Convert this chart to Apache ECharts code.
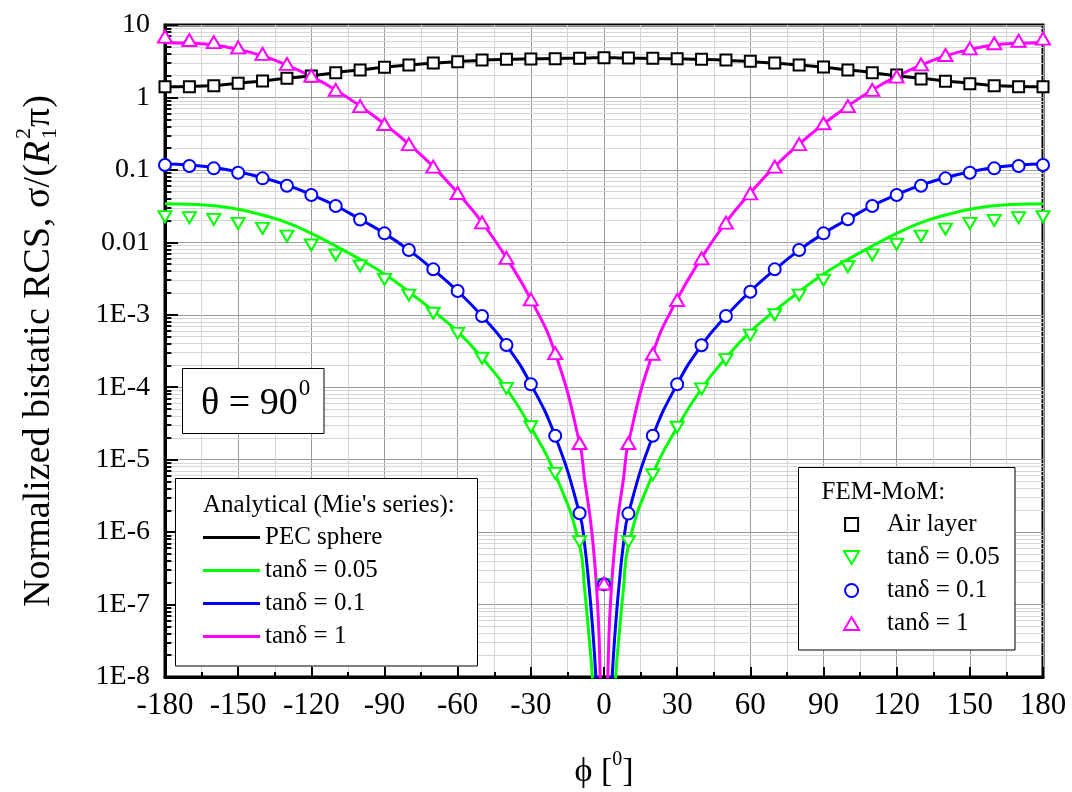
<!DOCTYPE html>
<html><head><meta charset="utf-8">
<script src="https://cdn.jsdelivr.net/npm/echarts@6/dist/echarts.min.js"></script>
<style>html,body{margin:0;padding:0;background:#fff}#c{width:1072px;height:792px}</style>
</head><body><div id="c"></div>
<script>
// ---------- data ----------
const phiFem = [-180,-170,-160,-150,-140,-130,-120,-110,-100,-90,-80,-70,-60,-50,-40,-30,-20,-10,0,
  10,20,30,40,50,60,70,80,90,100,110,120,130,140,150,160,170,180];
const femAir = [1.41,1.41,1.45,1.57,1.69,1.84,1.98,2.20,2.39,2.61,2.80,2.98,3.11,3.29,3.36,3.40,3.43,3.47,3.54,
  3.50,3.47,3.42,3.36,3.29,3.15,2.98,2.80,2.63,2.39,2.20,2.04,1.80,1.67,1.54,1.45,1.41,1.41];
const femTan005 = [0.0226,0.0219,0.0207,0.0183,0.0156,0.0122,0.00918,0.00668,0.00471,0.00308,0.00187,0.00105,5.55e-4,2.51e-4,9.64e-5,2.85e-5,6.47e-6,7.4e-7,1.9e-7,
  7.4e-7,6.2e-6,2.8e-5,9.5e-5,2.4e-4,5.25e-4,1.0e-3,1.87e-3,3.0e-3,4.6e-3,6.7e-3,9.4e-3,0.0122,0.0152,0.0183,0.0201,0.0219,0.0226];
const femTan01 = [0.117,0.113,0.105,0.0915,0.0764,0.0605,0.045,0.0317,0.0207,0.0133,0.00783,0.00424,0.00213,9.6e-4,3.83e-4,1.10e-4,2.14e-5,1.82e-6,1.9e-7,
  1.8e-6,2.14e-5,1.1e-4,3.8e-4,9.6e-4,2.08e-3,4.24e-3,7.83e-3,0.0133,0.0208,0.0317,0.045,0.0605,0.0764,0.0915,0.105,0.113,0.117];
const femTan1 = [6.9,6.2,5.8,4.9,4.0,2.9,2.0,1.27,0.76,0.43,0.227,0.111,0.048,0.0189,0.0061,0.00163,2.95e-4,1.7e-5,1.95e-7,
  1.7e-5,2.9e-4,1.6e-3,6.0e-3,0.0187,0.0474,0.111,0.227,0.44,0.76,1.27,1.94,2.86,3.85,4.76,5.6,6.07,6.5];

const phiMie = [-180,-170,-160,-150,-140,-130,-120,-110,-100,-90,-80,-70,-60,-50,-40,-30,-20,-10,
  -8,-6,-5,-4,-3,-2,-1,0,1,2,3,4,5,6,8,
  10,20,30,40,50,60,70,80,90,100,110,120,130,140,150,160,170,180];
const miePec = [1.41,1.42,1.46,1.57,1.69,1.84,1.99,2.20,2.40,2.61,2.80,2.98,3.12,3.27,3.36,3.41,3.45,3.49,
  3.50,3.51,3.52,3.52,3.53,3.53,3.54,3.54,3.54,3.53,3.53,3.52,3.52,3.51,3.50,
  3.49,3.45,3.41,3.36,3.27,3.12,2.98,2.80,2.61,2.40,2.20,1.99,1.84,1.69,1.57,1.46,1.42,1.41];
const mieTan005 = [0.034,0.0335,0.032,0.0286,0.0238,0.01867,0.0133,0.00889,0.00582,0.00366,0.00208,0.00113,5.85e-4,2.55e-4,9.6e-5,2.8e-5,6.3e-6,6.5e-7,
  1.7e-7,3.2e-8,1.3e-8,4e-9,1e-9,1.5e-10,1e-11,1e-12,1e-11,1.5e-10,1e-9,4e-9,1.3e-8,3.2e-8,1.7e-7,
  6.5e-7,6.3e-6,2.8e-5,9.6e-5,2.55e-4,5.85e-4,0.00113,0.00208,0.00366,0.00582,0.00889,0.0133,0.01867,0.0238,0.0286,0.032,0.0335,0.034];
const mieTan01 = [0.121,0.117,0.108,0.094,0.078,0.0615,0.0455,0.032,0.0208,0.0133,0.0078,0.0042,0.00212,9.6e-4,3.8e-4,1.1e-4,2.1e-5,1.8e-6,
  7e-7,1.6e-7,6.5e-8,2.3e-8,6e-9,1e-9,5e-11,1e-12,5e-11,1e-9,6e-9,2.3e-8,6.5e-8,1.6e-7,7e-7,
  1.8e-6,2.1e-5,1.1e-4,3.8e-4,9.6e-4,0.00212,0.0042,0.0078,0.0133,0.0208,0.032,0.0455,0.0615,0.078,0.094,0.108,0.117,0.121];
const mieTan1 = [5.7,5.6,5.3,4.6,3.75,2.8,1.95,1.27,0.76,0.43,0.227,0.111,0.048,0.0189,0.0061,0.00163,2.95e-4,1.7e-5,
  5.5e-6,1.9e-6,1.0e-6,4.5e-7,1.6e-7,3.5e-8,1e-9,1e-12,1e-9,3.5e-8,1.6e-7,4.5e-7,1.0e-6,1.9e-6,5.5e-6,
  1.7e-5,2.95e-4,0.00163,0.0061,0.0189,0.048,0.111,0.227,0.43,0.76,1.27,1.95,2.8,3.75,4.6,5.3,5.6,5.7];

const yTickLabels = ['1E-8','1E-7','1E-6','1E-5','1E-4','1E-3','0.01','0.1','1','10'];
const xMin = -180, xMax = 180, xStep = 30;

// ---------- helpers ----------
const FONT = '"Liberation Serif","Times New Roman",serif';
const zip = (xs, ys) => xs.map((x, i) => [x, ys[i]]);
const mctx = document.createElement('canvas').getContext('2d');
function tw(t, size, style) { mctx.font = (style || '') + ' ' + size + 'px ' + FONT; return mctx.measureText(t).width; }

// minor gridlines / minor ticks (2..9 within each decade)
const minorVals = [];
for (let d = -8; d <= 0; d++) for (let m = 2; m <= 9; m++) minorVals.push(m * Math.pow(10, d));
const minorGrid = minorVals.map(v => [{coord: [xMin, v]}, {coord: [xMax, v]}]);
const minorTicks = minorVals.map(v => [{coord: [xMin, v]}, {coord: [xMin + 2.6, v]}]);

const BLACK = '#000000', GREEN = '#00ff00', BLUE = '#0000ff', MAG = '#ff00ff';

function mieSeries(name, ys, color) {
  return {type: 'line', name, data: zip(phiMie, ys), symbol: 'none', smooth: 0.5,
    color, lineStyle: {color, width: 3}, z: 3, clip: true, silent: true};
}
function femSeries(name, ys, color, symbol, size, rot) {
  return {type: 'scatter', name, data: zip(phiFem, ys), symbol, symbolSize: size, symbolRotate: rot || 0,
    itemStyle: {color: '#ffffff', borderColor: color, borderWidth: 2, opacity: 1}, z: 5, clip: true, silent: true};
}

// ---------- titles (graphic) ----------
const graphics = [];
// y title
(function () {
  const s = 38, ss = 22;
  const p1 = 'Normalized bistatic RCS, σ/(', pR = 'R', p2 = 'π)';
  const w1 = tw(p1, s), wR = tw(pR, s, 'italic'), ws = Math.max(tw('2', ss), tw('1', ss)) + 3, w2 = tw(p2, s);
  const W = w1 + wR + ws + w2;
  let x0 = -W / 2;
  const ch = [];
  const base = {fill: '#000', fontFamily: FONT, verticalAlign: 'middle', align: 'left'};
  ch.push({type: 'text', x: x0, y: 0, style: Object.assign({}, base, {text: p1, fontSize: s})});
  ch.push({type: 'text', x: x0 + w1, y: 0, style: Object.assign({}, base, {text: pR, fontSize: s, fontStyle: 'italic'})});
  ch.push({type: 'text', x: x0 + w1 + wR + 2, y: -15, style: Object.assign({}, base, {text: '2', fontSize: ss})});
  ch.push({type: 'text', x: x0 + w1 + wR + 2, y: 11, style: Object.assign({}, base, {text: '1', fontSize: ss})});
  ch.push({type: 'text', x: x0 + w1 + wR + ws, y: 0, style: Object.assign({}, base, {text: p2, fontSize: s})});
  graphics.push({type: 'group', x: 39, y: 351, rotation: Math.PI / 2, children: ch, z: 60});
})();
// x title
(function () {
  const s = 34, ss = 20;
  const a = 'ϕ [', b = '0', c = ']';
  const wa = tw(a, s), wb = tw(b, ss), wc = tw(c, s);
  const W = wa + wb + wc;
  const x0 = 604 - W / 2;
  const base = {fill: '#000', fontFamily: FONT, verticalAlign: 'middle', align: 'left'};
  graphics.push({type: 'text', x: x0, y: 772, z: 60, style: Object.assign({}, base, {text: a, fontSize: s})});
  graphics.push({type: 'text', x: x0 + wa, y: 760, z: 60, style: Object.assign({}, base, {text: b, fontSize: ss})});
  graphics.push({type: 'text', x: x0 + wa + wb, y: 772, z: 60, style: Object.assign({}, base, {text: c, fontSize: s})});
})();
// theta box
(function () {
  graphics.push({type: 'rect', shape: {x: 182.5, y: 368.5, width: 141.5, height: 65}, style: {fill: '#fff', stroke: '#000', lineWidth: 1}, z: 50});
  const s = 38, t = 'θ = 90';
  const w = tw(t, s);
  graphics.push({type: 'text', x: 201, y: 404, z: 60, style: {text: t, fill: '#000', fontFamily: FONT, fontSize: s, verticalAlign: 'middle'}});
  graphics.push({type: 'text', x: 201 + w + 1, y: 389, z: 60, style: {text: '0', fill: '#000', fontFamily: FONT, fontSize: 23, verticalAlign: 'middle'}});
})();
// legend boxes + titles
graphics.push({type: 'rect', shape: {x: 175.5, y: 478.5, width: 302, height: 187.5}, style: {fill: '#fff', stroke: '#000', lineWidth: 1}, z: 50});
graphics.push({type: 'text', x: 203, y: 505, z: 60, style: {text: "Analytical (Mie's series):", fill: '#000', fontFamily: FONT, fontSize: 25, verticalAlign: 'middle'}});
graphics.push({type: 'rect', shape: {x: 798.5, y: 467.5, width: 216.5, height: 182.5}, style: {fill: '#fff', stroke: '#000', lineWidth: 1}, z: 50});
graphics.push({type: 'text', x: 821.5, y: 492, z: 60, style: {text: 'FEM-MoM:', fill: '#000', fontFamily: FONT, fontSize: 25, verticalAlign: 'middle'}});

// ---------- chart ----------
const chart = echarts.init(document.getElementById('c'), null, {renderer: 'canvas'});
chart.setOption({
  animation: false,
  backgroundColor: '#ffffff',
  grid: {left: 165, right: 29, top: 25, bottom: 115, show: true, borderColor: '#000', borderWidth: 3, backgroundColor: 'transparent'},
  xAxis: {
    type: 'value', min: xMin, max: xMax, interval: xStep,
    axisLine: {show: true, onZero: false, lineStyle: {color: '#000', width: 3}},
    axisTick: {show: true, inside: true, length: 10, lineStyle: {color: '#000', width: 2}},
    minorTick: {show: true, splitNumber: 2, length: 5, lineStyle: {color: '#000', width: 2}},
    splitLine: {show: true, lineStyle: {color: '#9a9a9a', width: 1}},
    minorSplitLine: {show: true, lineStyle: {color: '#d6d6d6', width: 1}},
    axisLabel: {color: '#000', fontFamily: FONT, fontSize: 31, margin: 13}
  },
  yAxis: {
    type: 'log', logBase: 10, min: 1e-8, max: 10,
    axisLine: {show: true, onZero: false, lineStyle: {color: '#000', width: 3}},
    axisTick: {show: true, inside: true, length: 13, lineStyle: {color: '#000', width: 2}},
    splitLine: {show: true, lineStyle: {color: '#9a9a9a', width: 1}},
    axisLabel: {color: '#000', fontFamily: FONT, fontSize: 28, margin: 15,
      formatter: v => yTickLabels[Math.round(Math.log10(v)) + 8] || ''}
  },
  legend: [
    {orient: 'vertical', left: 203, top: 525, itemWidth: 57, itemHeight: 3, itemGap: 8, padding: 0,
      symbolKeepAspect: false, selectedMode: false, z: 60, textStyle: {color: '#000', fontFamily: FONT, fontSize: 25},
      data: [
        {name: 'PEC sphere', icon: 'rect', itemStyle: {color: BLACK, borderWidth: 0}},
        {name: 'tanδ = 0.05', icon: 'rect', itemStyle: {color: GREEN, borderWidth: 0}},
        {name: 'tanδ = 0.1', icon: 'rect', itemStyle: {color: BLUE, borderWidth: 0}},
        {name: 'tanδ = 1', icon: 'rect', itemStyle: {color: MAG, borderWidth: 0}}
      ]},
    {orient: 'vertical', left: 843, top: 512, itemWidth: 61, itemHeight: 13, itemGap: 8, padding: 0,
      symbolKeepAspect: true, selectedMode: false, z: 60, textStyle: {color: '#000', fontFamily: FONT, fontSize: 25},
      formatter: n => n.replace('FEM: ', ''),
      data: [
        {name: 'FEM: Air layer', icon: 'path://M0,0L10,0L10,10L0,10Z', itemStyle: {color: '#fff', borderColor: BLACK, borderWidth: 2}},
        {name: 'FEM: tanδ = 0.05', icon: 'path://M0,0L14,0L7,12Z', itemStyle: {color: '#fff', borderColor: GREEN, borderWidth: 2}},
        {name: 'FEM: tanδ = 0.1', icon: 'circle', itemStyle: {color: '#fff', borderColor: BLUE, borderWidth: 2}},
        {name: 'FEM: tanδ = 1', icon: 'path://M7,0L14,12L0,12Z', itemStyle: {color: '#fff', borderColor: MAG, borderWidth: 2}}
      ]}
  ],
  graphic: graphics,
  series: [
    {type: 'line', name: 'grid-minor', data: [], silent: true, z: 1,
      markLine: {silent: true, symbol: ['none', 'none'], label: {show: false}, animation: false, z: 1,
        lineStyle: {color: '#d6d6d6', width: 1, type: 'solid'}, emphasis: {disabled: true},
        data: minorGrid}},
    {type: 'line', name: 'tick-minor', data: [], silent: true, z: 1,
      markLine: {silent: true, symbol: ['none', 'none'], label: {show: false}, animation: false, z: 1,
        lineStyle: {color: '#000', width: 2, type: 'solid'}, emphasis: {disabled: true},
        data: minorTicks}},
    mieSeries('PEC sphere', miePec, BLACK),
    mieSeries('tanδ = 0.05', mieTan005, GREEN),
    mieSeries('tanδ = 0.1', mieTan01, BLUE),
    mieSeries('tanδ = 1', mieTan1, MAG),
    femSeries('FEM: Air layer', femAir, BLACK, 'rect', 11),
    femSeries('FEM: tanδ = 0.05', femTan005, GREEN, 'triangle', [13, 11], 180),
    femSeries('FEM: tanδ = 0.1', femTan01, BLUE, 'circle', 12),
    femSeries('FEM: tanδ = 1', femTan1, MAG, 'triangle', [14, 12])
  ]
});
</script></body></html>
